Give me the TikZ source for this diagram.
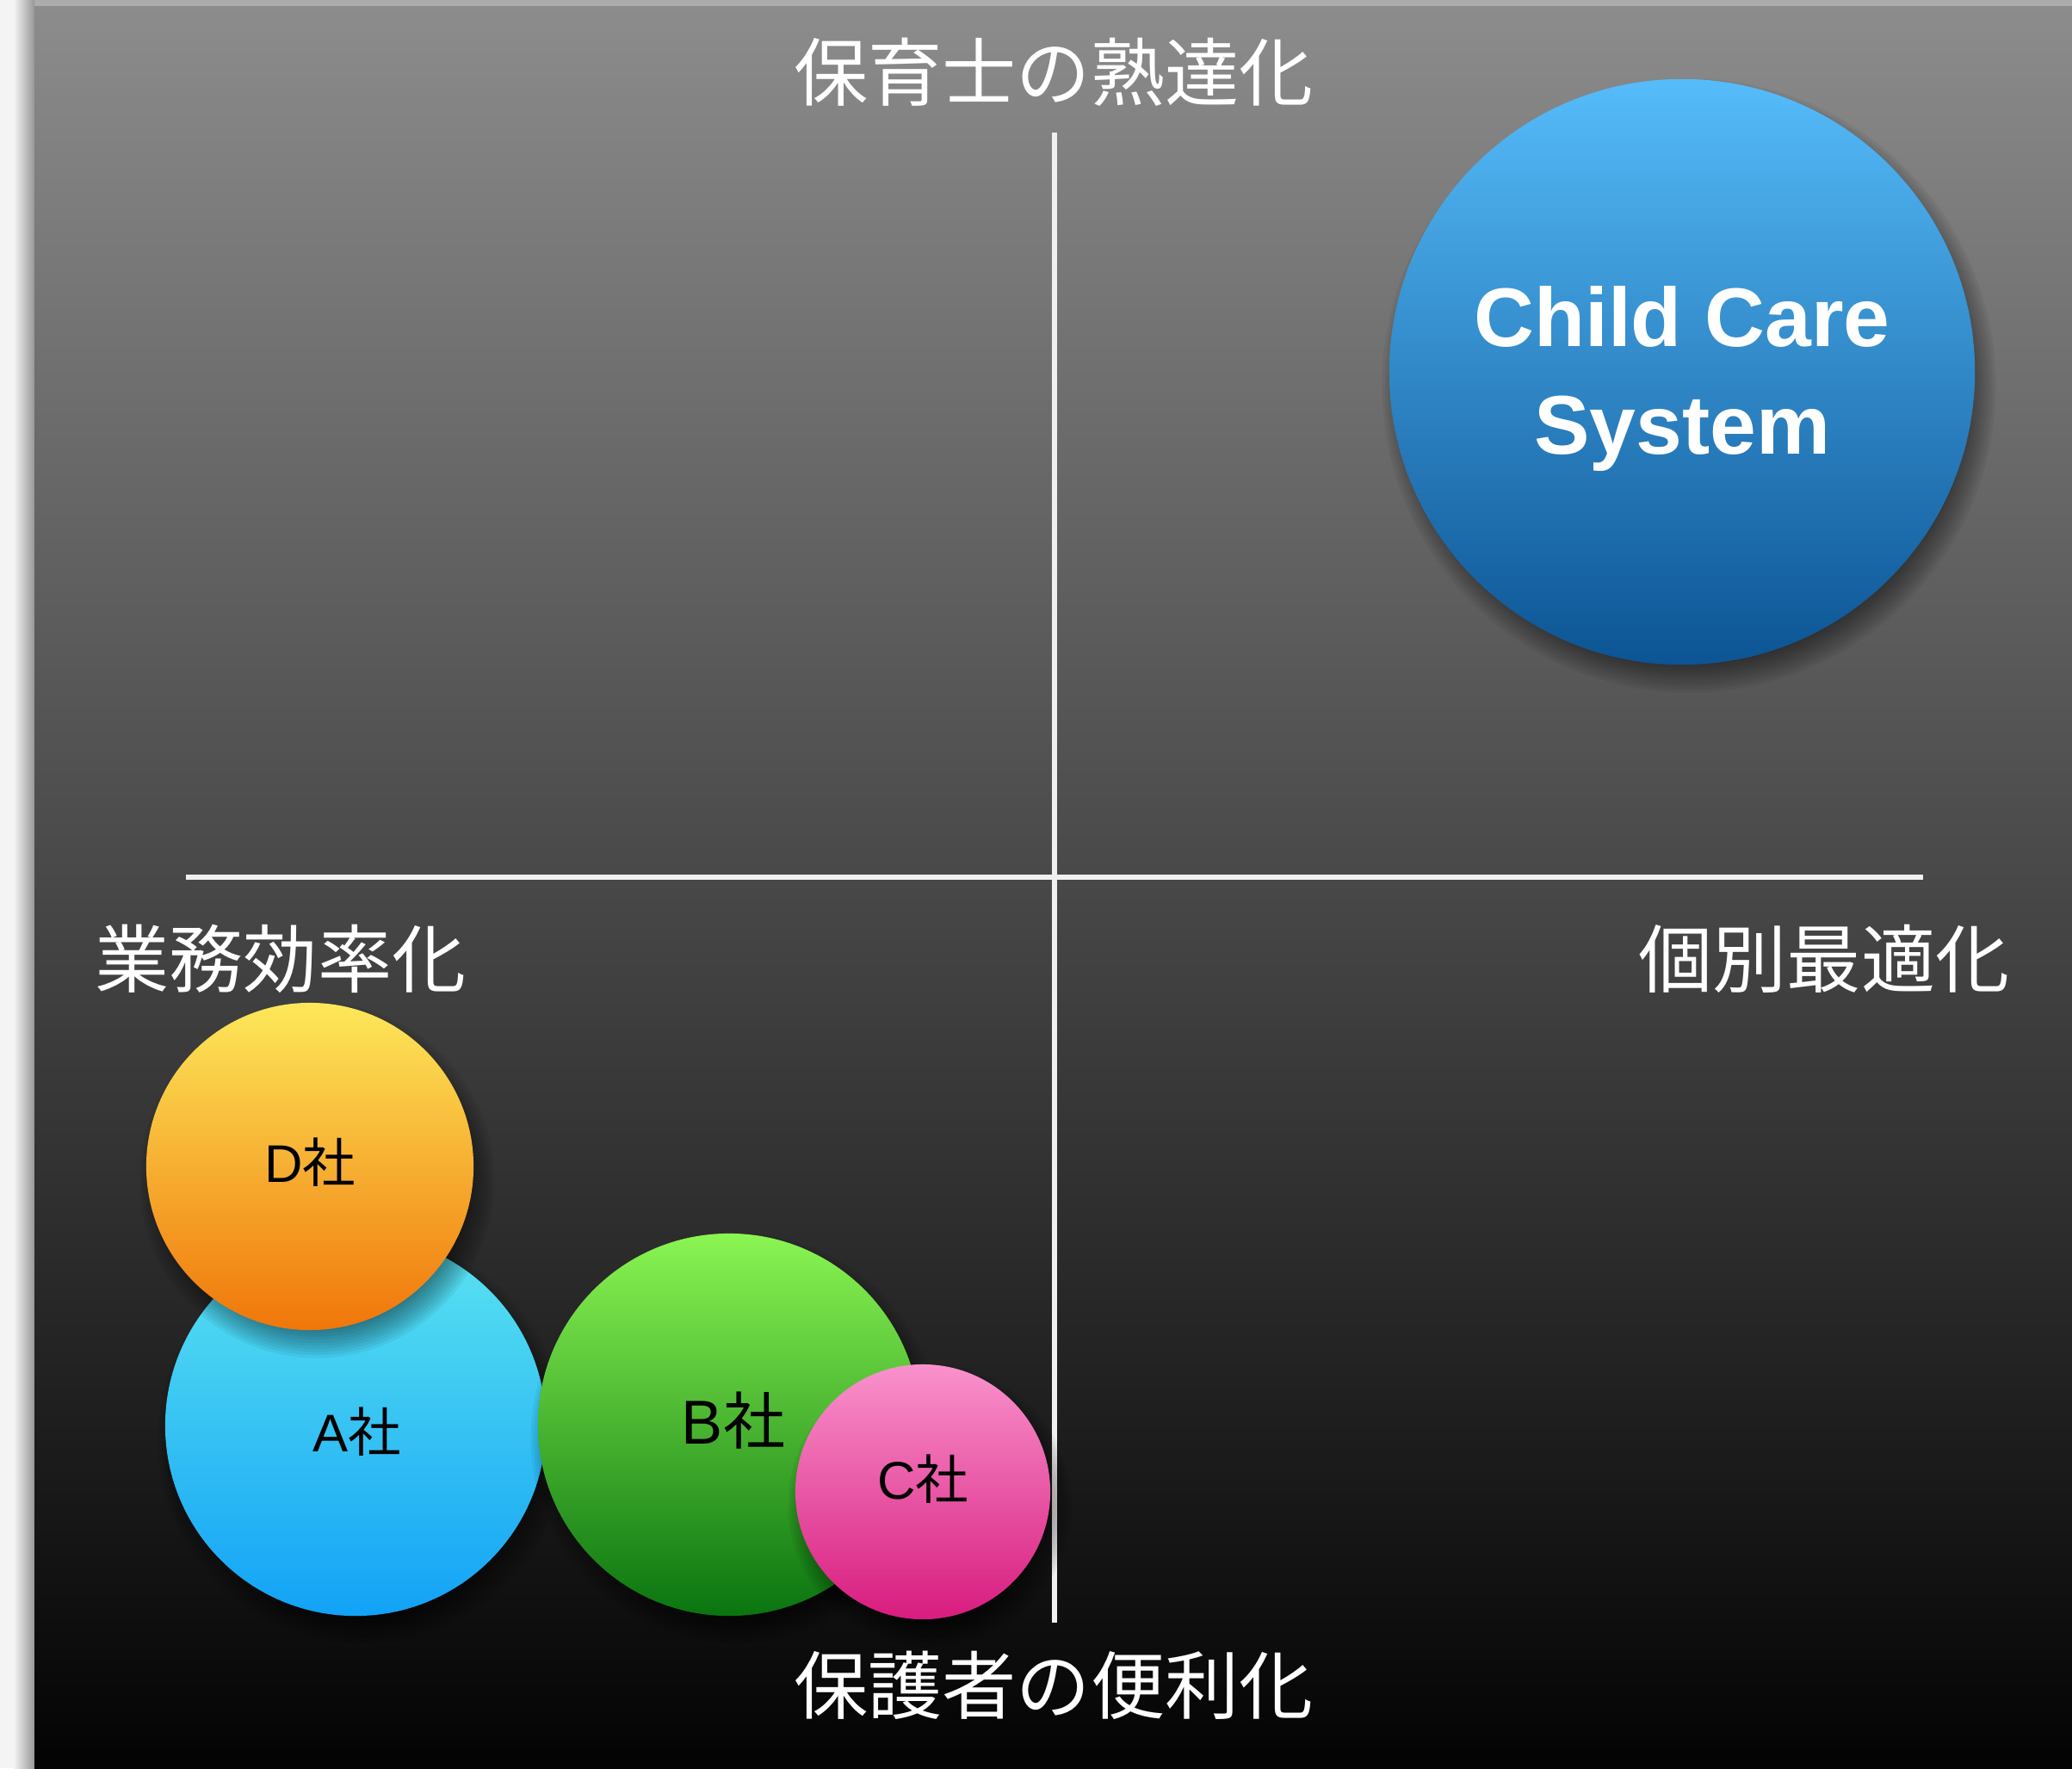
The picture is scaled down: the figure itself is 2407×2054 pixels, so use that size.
\documentclass[tikz,border=0pt]{standalone}
\usepackage{fontspec}
\newfontfamily\cjk{Noto Sans CJK JP}
\newfontfamily\lsans{Liberation Sans}
\definecolor{stripbg}{RGB}{244,244,244}
\definecolor{stripedge}{RGB}{150,150,150}
\definecolor{topstrip}{RGB}{172,172,172}
\definecolor{paneltop}{RGB}{140,140,140}
\definecolor{panelbot}{RGB}{3,3,3}
\definecolor{ccsTop}{RGB}{86,188,250}
\definecolor{ccsMid}{RGB}{48,140,212}
\definecolor{ccsBot}{RGB}{12,84,148}
\definecolor{dTop}{RGB}{253,232,90}
\definecolor{dMid}{RGB}{249,178,44}
\definecolor{dBot}{RGB}{240,118,10}
\definecolor{aTop}{RGB}{92,228,240}
\definecolor{aBot}{RGB}{18,162,246}
\definecolor{bTop}{RGB}{138,245,82}
\definecolor{bBot}{RGB}{10,116,16}
\definecolor{cTop}{RGB}{249,146,204}
\definecolor{cBot}{RGB}{216,28,126}
\tikzset{
  bubble/.style={circle, inner sep=0pt, draw=none},
  axislabel/.style={text=white, inner sep=0pt, font=\cjk\fontsize{24.5}{30}\selectfont},
  firmlabel/.style={text=black, inner sep=0pt, font=\cjk\fontsize{17.5}{21}\selectfont},
  axisline/.style={draw=white!94!black, line width=1.45pt},
}
\newcommand{\dropshade}[3]{%
  \foreach \k in {0,...,11}{%
    \fill[black,opacity=0.05] ({#1+8},{#2+16}) circle[radius={#3-22+3.5*\k}];}}
\begin{document}
\begin{tikzpicture}[x=0.01cm,y=-0.01cm]
\useasboundingbox (0,0) rectangle (2407,2054);
% backdrop
\fill[stripbg] (0,0) rectangle (2407,2054);
\shade[left color=stripbg, right color=stripedge] (16,0) rectangle (40,2054);
\fill[topstrip] (40,0) rectangle (2407,7);
\shade[top color=paneltop, bottom color=panelbot] (40,7) rectangle (2407,2054);
% axes
\coordinate (vtop) at (1225,154);
\coordinate (vbot) at (1225,1885);
\coordinate (hleft) at (216,1019);
\coordinate (hright) at (2234,1019);
\draw[axisline] (vtop) -- (vbot);
\draw[axisline] (hleft) -- (hright);
% axis labels
\node[axislabel] (ltop) at (1224,84) {保育士の熟達化};
\node[axislabel] (lbot) at (1224,1958) {保護者の便利化};
\node[axislabel] (lleft) at (326,1114) {業務効率化};
\node[axislabel] (lright) at (2119,1114) {個別最適化};
% Child Care System
\dropshade{1954}{432}{340}
\node[bubble, minimum size=6.8cm, top color=ccsTop, middle color=ccsMid, bottom color=ccsBot] (ccs) at (1954,432) {};
\node[text=white, inner sep=0pt, align=center, font=\lsans\bfseries\fontsize{27.5}{35.3}\selectfont] (ccst) at (1954,440) {Child Care\\System};
% competitors
\dropshade{413}{1656}{221}
\node[bubble, minimum size=4.42cm, top color=aTop, bottom color=aBot] (a) at (413,1656) {};
\node[firmlabel] (at) at (415,1663) {{\lsans A}社};
\dropshade{360}{1355}{190}
\node[bubble, minimum size=3.8cm, top color=dTop, middle color=dMid, bottom color=dBot] (d) at (360,1355) {};
\node[firmlabel] (dt) at (360,1350) {{\lsans D}社};
\dropshade{847}{1655}{222}
\node[bubble, minimum size=4.44cm, top color=bTop, bottom color=bBot] (b) at (847,1655) {};
\node[firmlabel, font=\cjk\fontsize{20.5}{24}\selectfont] (bt) at (852,1650) {{\lsans B}社};
\dropshade{1072}{1733}{148}
\node[bubble, minimum size=2.96cm, top color=cTop, bottom color=cBot] (c) at (1072,1733) {};
\node[firmlabel] (ct) at (1072,1718) {{\lsans C}社};
\end{tikzpicture}
\end{document}
